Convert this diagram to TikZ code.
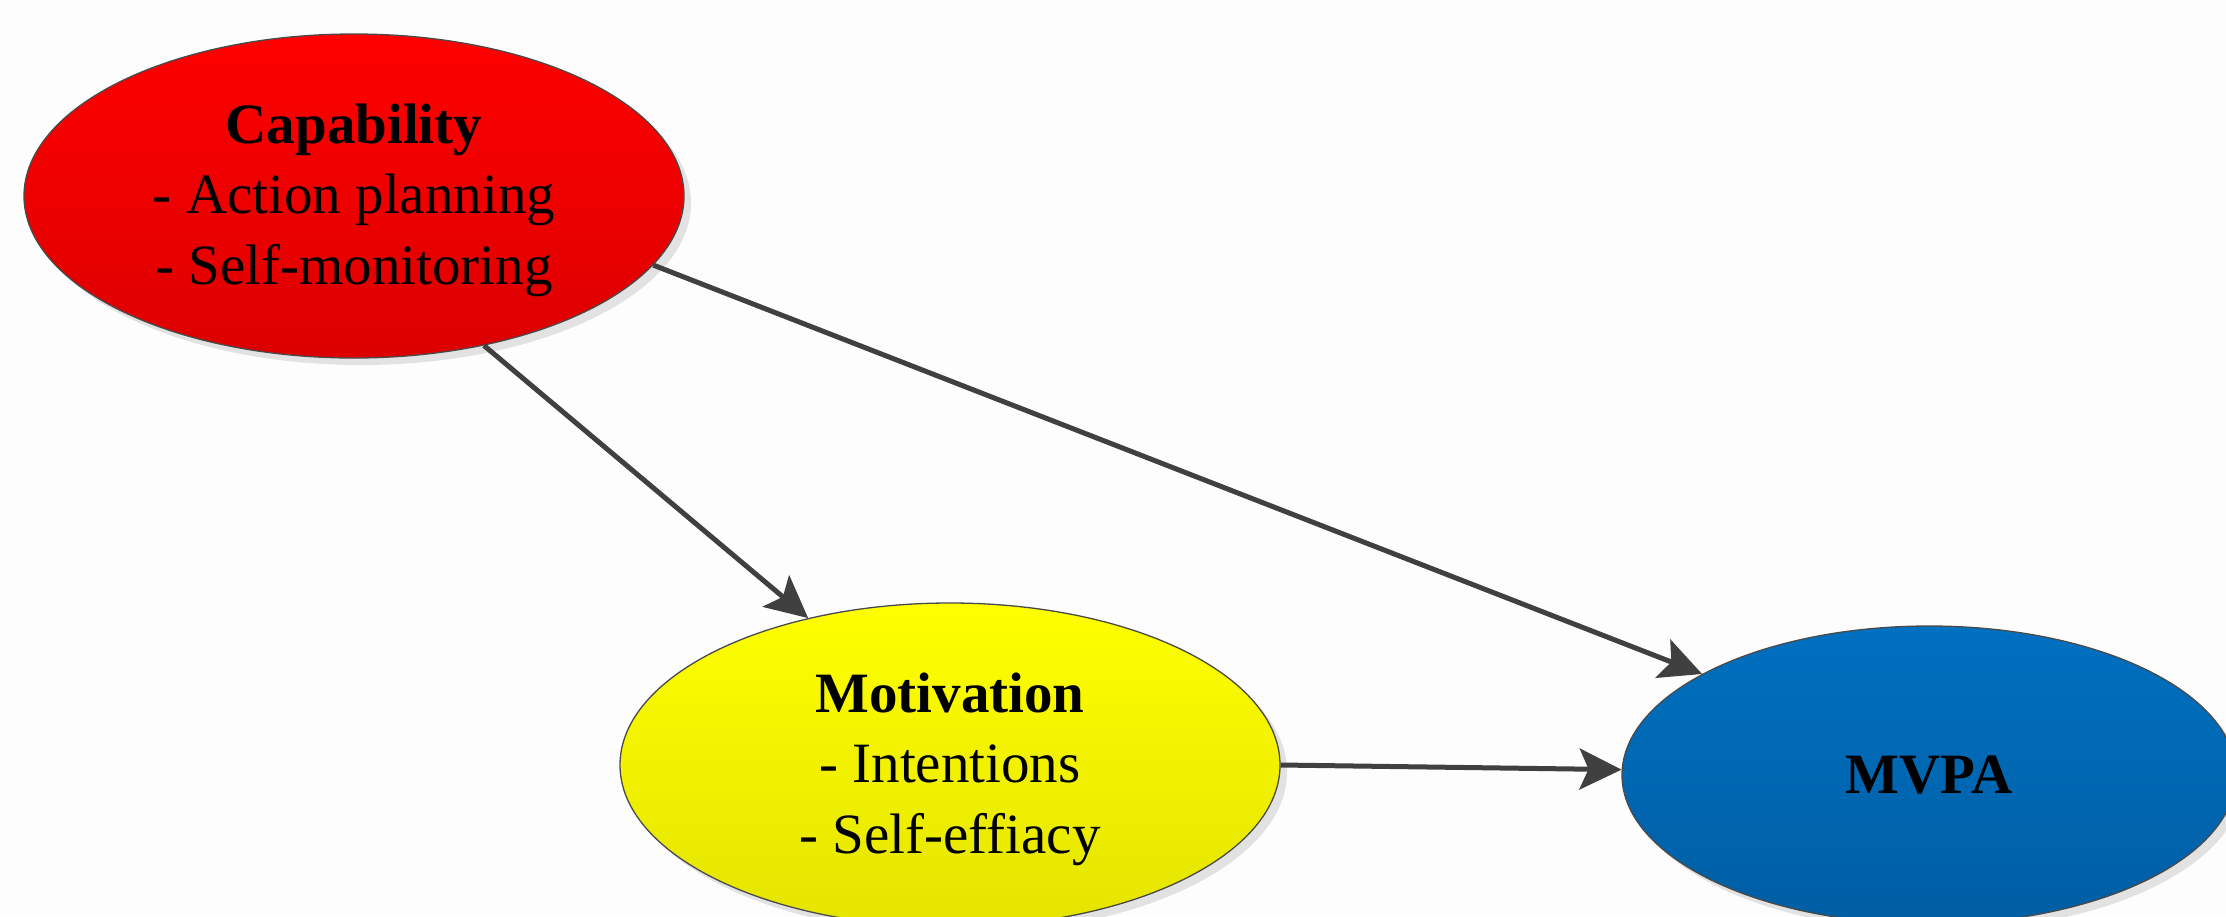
\documentclass[tikz,border=0pt]{standalone}
\usepackage{fontspec}
\setmainfont{Liberation Serif}
\usetikzlibrary{shapes.geometric,arrows.meta,shadows}
\definecolor{bgc}{HTML}{FDFDFD}
\definecolor{linec}{HTML}{404040}
\definecolor{edgec}{HTML}{4A4A4A}
\definecolor{shadowc}{HTML}{E2E2E2}
\newcommand{\topstrut}{\rule{0pt}{48pt}}
\tikzset{
  blob/.style={ellipse, inner sep=0pt, align=center, draw=edgec, line width=1.3pt,
    font=\fontsize{57}{70.5}\selectfont,
    drop shadow={fill=shadowc, opacity=1, shadow xshift=7pt, shadow yshift=-7pt}},
  conn/.style={draw=linec, line width=5pt,
    -{Stealth[length=42pt,width=41pt,inset=9pt,fill=linec]}}
}
\begin{document}
\begin{tikzpicture}[x=1pt,y=-1pt]
\fill[bgc] (0,0) rectangle (2226,916);
\useasboundingbox (0,0) rectangle (2226,916);
\node[blob, minimum width=660pt, minimum height=324pt,
  top color=red!100, bottom color=red!86!black] (cap) at (354,196)
  {\topstrut\textbf{Capability}\\- Action planning\\- Self-monitoring};
\node[blob, minimum width=660pt, minimum height=324pt,
  top color={rgb,255:red,255;green,255;blue,0}, bottom color={rgb,255:red,228;green,228;blue,0}] (mot) at (950,765)
  {\topstrut\textbf{Motivation}\\- Intentions\\- Self-effiacy};
\node[blob, minimum width=614pt, minimum height=298pt,
  top color={rgb,255:red,0;green,112;blue,192}, bottom color={rgb,255:red,0;green,94;blue,164}] (mvpa) at (1929,775)
  {\textbf{MVPA}};
\draw[conn] (cap.-49) -- (mot.134);
\draw[conn] (cap.-13.6) -- (mvpa.156);
\draw[conn] (mot.-0.7) -- (mvpa.179.6);
\end{tikzpicture}
\end{document}
